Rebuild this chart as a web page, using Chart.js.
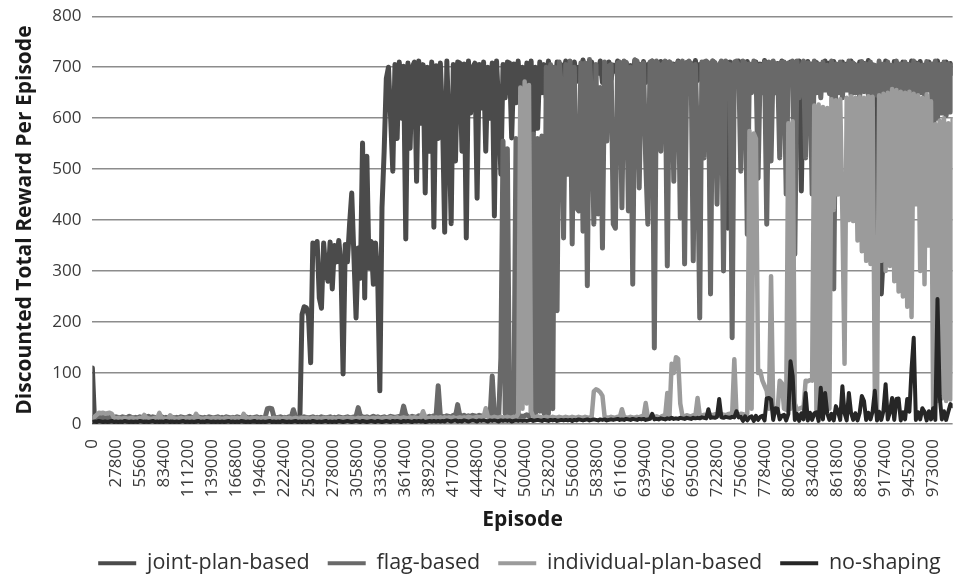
<!DOCTYPE html>
<html><head><meta charset="utf-8">
<script src="https://cdn.jsdelivr.net/npm/chart.js@4.4.0/dist/chart.umd.min.js"></script>
<style>html,body{margin:0;padding:0;background:#fff;overflow:hidden}#wrap{position:absolute;left:0;top:-5px;width:961px;height:581px}</style>
</head><body><div id="wrap"><canvas id="c"></canvas></div>
<script>
// Episodes: one sample every EPISODE_STEP episodes
const EPISODE_STEP = 2500;
const X_MAX = 995000;
const xTickLabels = [0,27800,55600,83400,111200,139000,166800,194600,222400,250200,278000,305800,333600,361400,389200,417000,444800,472600,500400,528200,556000,583800,611600,639400,667200,695000,722800,750600,778400,806200,834000,861800,889600,917400,945200,973000];
const yTickLabels = [0,100,200,300,400,500,600,700,800];
const seriesNames = ["joint-plan-based", "flag-based", "individual-plan-based", "no-shaping"];
const seriesColors = ["#4b4b4b", "#696969", "#9b9b9b", "#262626"];
const seriesWidths = [5, 5, 4.5, 4];

const jointPlanBased = [
110,6,5,7,6,5,6,7,5,6,5,6,6,5,7,6,5,6,5,6,
6,5,7,6,5,6,5,6,7,5,6,5,6,6,5,7,5,6,5,6,
5,6,7,5,6,5,6,6,5,7,6,5,6,5,6,7,5,6,6,5,
6,7,5,6,5,6,6,5,7,6,5,6,5,6,7,5,6,5,6,6,
5,6,7,6,5,6,5,7,6,5,6,6,5,7,6,5,8,215,230,228,
212,120,355,335,358,247,227,355,300,280,357,265,350,318,360,314,98,352,318,392,
453,330,208,345,286,551,247,525,306,358,274,355,290,65,424,535,678,700,600,496,
705,560,710,600,702,363,708,541,700,710,476,712,590,705,453,700,535,710,386,703,
560,708,600,376,712,580,393,705,516,710,708,535,706,365,712,610,700,708,443,705,
620,710,535,700,600,708,408,712,620,490,705,640,710,708,561,706,630,712,640,700,
620,708,650,712,569,700,580,710,650,705,640,712,660,700,650,710,675,705,680,712,
670,706,685,710,672,700,690,714,668,705,680,710,675,702,688,712,670,706,684,710,
676,704,692,712,671,707,682,709,674,703,688,714,673,706,680,711,670,705,686,712,
675,708,690,711,668,704,684,710,677,706,691,712,672,705,683,709,670,707,688,713,
674,705,687,710,671,708,680,712,676,704,690,711,673,706,384,710,669,705,686,712,
676,708,689,711,668,703,684,710,678,706,690,713,672,705,681,710,671,707,688,712,
674,705,686,710,670,708,680,712,457,704,691,711,672,706,684,709,670,705,687,712,
675,708,690,711,669,704,683,710,676,706,689,712,673,705,682,710,670,707,688,713,
674,705,686,330,670,255,340,712,676,704,380,711,330,706,320,710,360,705,686,712,
674,708,690,711,668,704,684,710,676,706,690,712,672,705,682,710,670,707,688
];

const flagBased = [
12,14,13,15,12,13,14,12,13,15,12,14,13,12,14,13,12,15,13,12,
13,12,14,13,12,13,15,12,14,13,12,13,14,12,13,12,14,13,12,13,
12,14,13,12,13,15,12,13,12,14,13,12,13,12,14,13,12,13,14,12,
13,12,14,13,12,13,12,14,13,12,13,14,12,13,12,13,14,12,13,12,
14,30,31,30,14,12,13,14,12,13,12,14,13,28,14,12,13,12,14,13,
12,13,14,12,13,12,14,13,12,13,14,12,13,12,14,13,12,13,14,12,
13,14,15,32,16,14,13,14,12,13,15,13,14,12,13,14,12,13,15,14,
13,14,15,16,35,18,14,13,15,14,13,16,14,15,14,13,15,14,16,15,
75,16,15,14,16,15,14,17,15,38,16,15,17,14,16,15,17,16,15,17,
16,15,17,16,15,94,18,16,15,130,555,20,540,15,18,20,560,15,16,15,
16,18,15,20,569,20,560,25,565,20,700,20,705,30,700,222,710,660,365,705,
490,712,353,700,424,418,708,378,708,271,715,640,392,705,412,660,345,710,555,702,
705,392,384,708,710,424,712,708,418,700,274,714,712,463,705,708,516,392,710,712,
149,712,705,535,706,712,310,710,706,476,704,710,404,712,314,708,712,705,320,705,
541,208,710,522,712,708,255,712,709,431,704,712,300,712,706,705,169,710,712,704,
496,712,708,372,706,650,712,706,482,704,650,710,392,710,516,712,650,706,522,710,
710,451,708,705,712,333,712,640,700,712,522,708,706,451,712,650,706,640,710,655,
704,648,712,265,706,650,710,640,705,655,712,645,708,650,704,640,711,652,706,645,
710,650,704,645,712,640,706,655,710,648,704,650,712,645,706,650,710,640,705,652,
712,645,706,650,704,640,711,655,706,520,712,600,705,610,710,605,706,612,704
];

const individualPlanBased = [
10,14,18,22,21,22,20,21,22,20,12,11,12,10,11,12,10,11,12,11,
10,11,12,11,18,12,11,10,11,12,11,22,12,11,10,11,17,12,11,10,
11,12,10,11,12,11,12,11,20,12,11,10,11,12,11,10,12,11,12,11,
10,11,12,11,10,12,11,12,11,10,20,12,11,10,12,11,12,11,10,12,
11,12,11,10,12,11,12,11,10,12,11,12,10,11,12,11,10,12,11,12,
11,10,12,11,12,11,10,12,11,12,11,12,10,11,12,11,12,10,12,11,
12,11,10,12,11,12,11,12,10,11,12,11,12,10,11,12,11,12,13,11,
12,13,11,12,13,12,11,13,12,13,12,11,13,25,13,12,11,13,12,13,
12,13,11,13,12,13,12,13,11,12,13,12,13,12,14,13,12,13,14,13,
14,13,31,14,13,12,14,13,12,14,13,12,14,13,12,14,13,20,660,30,
672,40,665,25,14,13,15,14,13,12,14,13,12,14,13,12,14,13,12,14,
13,12,14,13,12,14,13,12,14,13,12,14,64,68,66,62,55,14,13,12,
14,13,12,14,13,29,14,13,12,14,13,12,14,13,15,14,41,14,13,15,
14,15,13,14,16,15,61,15,118,100,131,128,40,16,15,17,16,15,17,16,
51,17,16,18,17,16,18,17,19,18,17,19,18,17,19,20,18,127,19,18,
20,19,18,20,575,30,570,560,100,104,85,75,65,30,290,25,22,24,85,80,
30,28,590,30,594,40,28,30,32,30,85,84,86,85,625,20,627,18,622,25,
620,30,637,420,635,450,637,410,118,640,400,643,398,640,360,642,339,640,320,643,
314,642,65,20,645,320,648,300,650,310,657,280,655,260,652,250,650,230,652,210,
648,431,645,300,640,274,647,350,633,30,588,45,595,50,600,45,590,48,598
];

const noShaping = [
4,5,4,6,5,4,5,4,5,6,4,5,4,5,4,6,5,4,5,4,
5,4,6,5,4,5,4,5,6,4,5,4,5,4,6,5,4,5,4,5,
4,5,6,4,5,4,5,4,5,6,4,5,4,6,5,4,5,4,5,4,
5,4,5,6,4,5,4,5,4,6,5,4,5,4,5,6,4,5,4,5,
4,5,6,4,5,4,5,4,6,5,4,5,4,5,6,4,5,4,5,4,
5,4,6,5,4,5,4,5,6,4,5,4,5,4,6,5,4,5,6,5,
4,5,6,5,4,6,5,4,5,6,5,4,6,5,4,5,6,5,4,6,
5,6,5,4,6,5,6,5,4,6,5,6,5,6,4,5,6,5,6,5,
6,5,6,5,7,6,5,6,7,5,6,5,7,6,5,6,7,6,5,7,
6,7,6,5,7,6,7,6,5,7,6,7,6,7,5,6,7,6,7,6,
7,6,7,8,6,7,8,7,6,8,7,6,8,7,8,6,7,8,7,8,
7,8,6,8,7,9,8,7,8,9,7,8,9,8,7,9,8,9,7,8,
9,8,9,10,8,9,8,10,9,8,10,9,8,10,9,10,8,9,10,20,
9,10,9,11,10,9,11,10,12,10,11,10,12,11,10,12,11,10,12,11,
12,11,13,12,11,29,12,13,12,14,49,13,12,14,13,12,14,13,25,13,
14,6,15,7,13,15,6,16,8,14,16,7,50,51,48,8,31,30,9,16,
18,7,20,123,94,8,20,6,21,9,61,7,22,8,21,23,6,71,9,61,
21,8,20,7,35,24,8,74,21,7,61,22,8,21,7,22,55,45,8,22,
9,25,65,7,24,8,26,78,9,23,51,8,49,50,7,23,9,49,24,108,
169,8,23,9,31,24,7,25,9,31,8,245,55,9,25,8,24,39,35
];

const seriesValues = [jointPlanBased, flagBased, individualPlanBased, noShaping];
const drawOrder = [4, 3, 2, 1]; // later series drawn on top

const toPoints = arr => arr.map((v, i) => ({ x: i * EPISODE_STEP, y: v }));

Chart.defaults.font.family = "'Open Sans', Lato, sans-serif";
Chart.defaults.color = "#3a3a3a";

const shiftLegend = {
  id: 'shiftLegend',
  afterLayout(chart) {
    const l = chart.legend;
    if (l) { l.left += 33; l.right += 33; }
  }
};

new Chart(document.getElementById('c'), {
  type: 'line',
  data: {
    datasets: seriesNames.map((name, k) => ({
      label: name,
      data: toPoints(seriesValues[k]),
      borderColor: seriesColors[k],
      backgroundColor: seriesColors[k],
      borderWidth: seriesWidths[k],
      borderJoinStyle: 'round',
      borderCapStyle: 'round',
      pointRadius: 0,
      tension: 0,
      order: drawOrder[k]
    }))
  },
  options: {
    responsive: true,
    maintainAspectRatio: false,
    animation: false,
    layout: { padding: { top: 0, right: 0, left: 12, bottom: -8 } },
    plugins: {
      legend: {
        position: 'bottom',
        reverse: true,
        labels: {
          boxWidth: 38,
          boxHeight: 4,
          padding: 18,
          font: { size: 21.5 },
          color: '#303030',
          generateLabels: chart => Chart.defaults.plugins.legend.labels.generateLabels(chart).map(l => Object.assign(l, { lineWidth: 0 }))
        }
      },
      tooltip: { enabled: false }
    },
    scales: {
      x: {
        type: 'linear',
        min: 0,
        max: X_MAX,
        grid: { display: false },
        border: { display: false },
        afterBuildTicks: axis => { axis.ticks = xTickLabels.map(v => ({ value: v })); },
        ticks: {
          autoSkip: false,
          minRotation: 90,
          maxRotation: 90,
          padding: 7,
          font: { size: 17 },
          callback: v => String(v)
        },
        title: { display: true, text: 'Episode', font: { size: 21, weight: 'bold' }, color: '#1a1a1a', padding: { top: 3, bottom: 2 } }
      },
      y: {
        min: 0,
        max: 800,
        grid: { color: '#8c8c8c', lineWidth: 1.4, drawTicks: false },
        border: { display: false },
        afterBuildTicks: axis => { axis.ticks = yTickLabels.map(v => ({ value: v })); },
        ticks: { padding: 11, font: { size: 17 } },
        title: { display: true, text: 'Discounted Total Reward Per Episode', font: { size: 21, weight: 'bold' }, color: '#1a1a1a', padding: { top: 0, bottom: 4 } }
      }
    }
  },
  plugins: [shiftLegend]
});
</script>
</body></html>
